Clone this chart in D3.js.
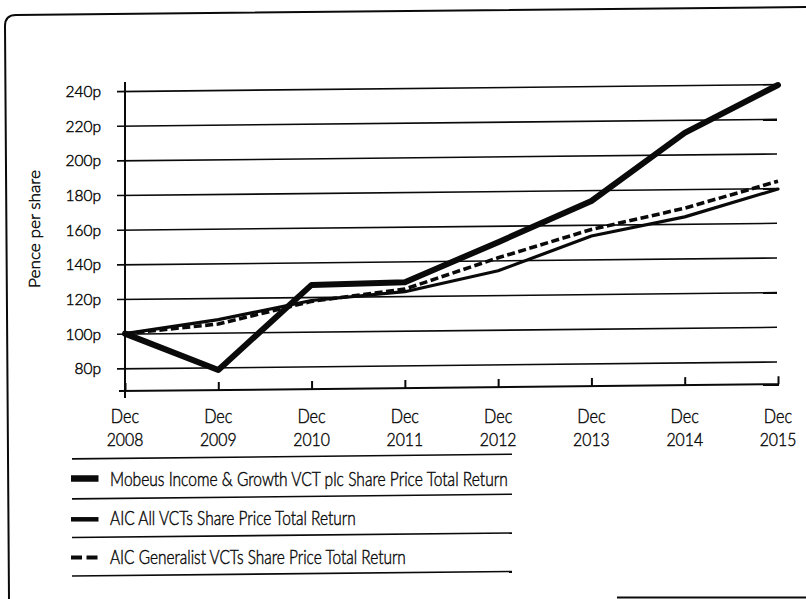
<!DOCTYPE html>
<html><head><meta charset="utf-8">
<script src="https://cdn.jsdelivr.net/npm/d3@7"></script>
<style>html,body{margin:0;padding:0;background:#fff;} svg{display:block;} text{font-weight:300;stroke:#0a0a0a;stroke-width:0.45px;}</style>
</head><body>
<svg id="c" width="806" height="599"></svg>
<script>
const years = ["2008","2009","2010","2011","2012","2013","2014","2015"];
const monthLabel = "Dec";
const yTicks = [80,100,120,140,160,180,200,220,240];
const mobeus = [100,78.5,127,128,150.5,173.7,212.5,239.5];
const allVcts = [100,107.5,118,122.5,134,153.5,164,179.5];
const generalist = [100,105,117.5,124,141.5,157.3,169,184];
const seriesNames = ["Mobeus Income & Growth VCT plc Share Price Total Return","AIC All VCTs Share Price Total Return","AIC Generalist VCTs Share Price Total Return"];
const yTitle = "Pence per share";

const FONT = "Lato, 'Open Sans', sans-serif";
const INK = "#0a0a0a";
const svg = d3.select("#c");
const x = d3.scalePoint().domain(years).range([125,778]);
const y = d3.scaleLinear().domain([80,240]).range([368.3,91]);
const axisY = 391;

// frame
svg.append("path").attr("d","M9,599 L5,26 Q5,15 16,15 L806,7")
  .attr("fill","none").attr("stroke",INK).attr("stroke-width",2);
svg.append("line").attr("x1",617).attr("x2",806).attr("y1",597.5).attr("y2",597.5)
  .attr("stroke",INK).attr("stroke-width",2);

// skewed plot group (scan tilt)
const sk = svg.append("g").attr("transform","translate(125,0) skewY(-0.6) translate(-125,0)");

// gridlines
const grid = sk.append("g").attr("transform","translate(125,0)")
  .call(d3.axisLeft(y).tickValues(yTicks).tickSize(8).tickFormat(""));
grid.select(".domain").remove();
grid.selectAll(".tick line").attr("x1",-8).attr("x2",652).attr("stroke",INK).attr("stroke-width",1.6);

// x axis ticks
const xa = sk.append("g").attr("transform",`translate(0,${axisY})`)
  .call(d3.axisBottom(x).tickSize(-8).tickSizeOuter(0).tickFormat(""));
xa.select(".domain").remove();
xa.selectAll(".tick line").attr("stroke",INK).attr("stroke-width",2);
sk.append("line").attr("x1",119).attr("x2",779).attr("y1",axisY).attr("y2",axisY)
  .attr("stroke",INK).attr("stroke-width",2);
sk.append("line").attr("x1",125).attr("x2",125).attr("y1",82).attr("y2",398)
  .attr("stroke",INK).attr("stroke-width",2);

// data lines
const line = d3.line().x((d,i)=>x(years[i])).y(d=>y(d));
sk.append("path").datum(allVcts).attr("d",line).attr("fill","none")
  .attr("stroke",INK).attr("stroke-width",3.2).attr("stroke-linejoin","round").attr("stroke-linecap","round");
sk.append("path").datum(generalist).attr("d",line).attr("fill","none")
  .attr("stroke",INK).attr("stroke-width",3.6).attr("stroke-dasharray","8,3.5").attr("stroke-linejoin","round");
sk.append("path").datum(mobeus).attr("d",line).attr("fill","none")
  .attr("stroke",INK).attr("stroke-width",6).attr("stroke-linejoin","round").attr("stroke-linecap","round");

// legend rules
[458.3,498.3,537,575.5].forEach(yy=>{
  sk.append("line").attr("x1",72).attr("x2",512).attr("y1",yy).attr("y2",yy)
    .attr("stroke",INK).attr("stroke-width",1.6);
});

// y labels
const yl = svg.append("g").attr("transform","translate(125,0)")
  .call(d3.axisLeft(y).tickValues(yTicks).tickSize(0).tickPadding(24).tickFormat(d=>d+"p"));
yl.select(".domain").remove();
yl.selectAll("text").attr("font-family",FONT).attr("font-size","15.5px").attr("fill",INK).attr("dy","0.36em");

// y title
const yt = svg.append("g");
const ytText = yt.append("text").attr("text-anchor","middle").attr("font-family",FONT)
  .attr("font-size","15px").attr("fill",INK).text(yTitle);
const ytS = 118 / ytText.node().getComputedTextLength();
yt.attr("transform",`translate(40,229) rotate(-90) scale(${ytS},1)`);

// x labels
const xl = svg.append("g").selectAll("g").data(years).join("g");
xl.append("text").attr("y",423).attr("text-anchor","middle").attr("font-family",FONT)
  .attr("font-size","19px").attr("fill",INK).text(monthLabel);
const yearText = xl.append("text").attr("y",446).attr("text-anchor","middle").attr("font-family",FONT)
  .attr("font-size","18.5px").attr("fill",INK).text(d=>d);
const xS = 36.7 / yearText.node().getComputedTextLength();
xl.attr("transform",d=>`translate(${x(d)},0) scale(${xS},1)`);

// legend
const legBase = [486,525,564];
const legMid = [478.5,519.3,557.5];
const legW = [398,246,296];
const legSym = [
  {w:6.5, dash:null},
  {w:4.5, dash:null},
  {w:4.2, dash:"11,4.5"}
];
seriesNames.forEach((name,i)=>{
  svg.append("line").attr("x1",71).attr("x2",98.5).attr("y1",legMid[i]).attr("y2",legMid[i])
    .attr("stroke",INK).attr("stroke-width",legSym[i].w)
    .attr("stroke-dasharray",legSym[i].dash);
  const g = svg.append("g");
  const t = g.append("text").attr("font-family",FONT).attr("font-size","19px").attr("fill",INK).text(name);
  const s = legW[i] / t.node().getComputedTextLength();
  g.attr("transform",`translate(110,${legBase[i]}) scale(${s},1)`);
});
</script>
</body></html>
